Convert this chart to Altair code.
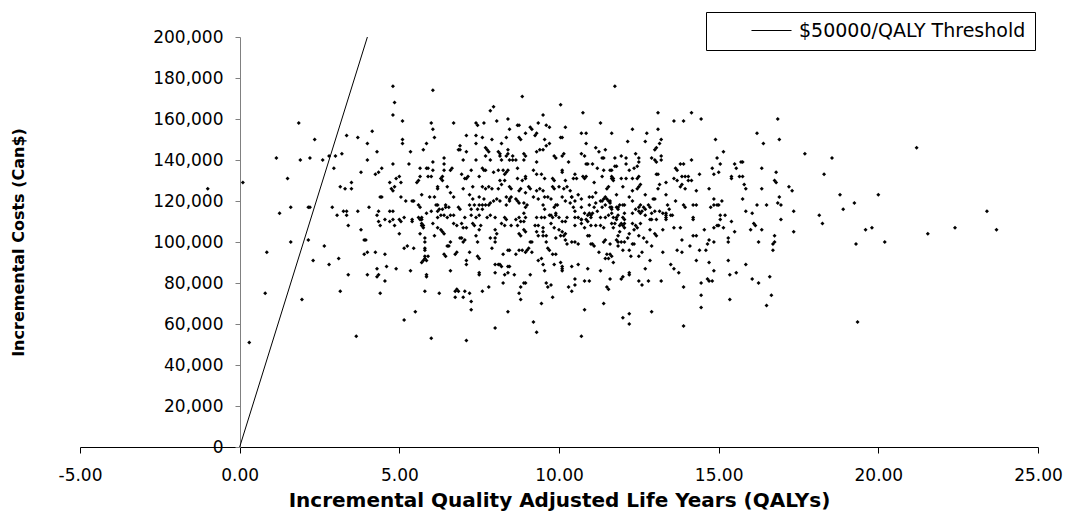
import altair as alt
import pandas as pd

# Simulated ICER cloud: (incremental QALYs, incremental cost in thousand Can$)
pts_left = [
    (-1.0, 126), (0.1, 129), (0.3, 51), (0.85, 95), (0.8, 75), (1.25, 114), (1.6, 117), (1.6, 100),
    (1.15, 141), (1.5, 131), (1.85, 158), (1.9, 140), (1.95, 72), (2.15, 117), (2.2, 117), (2.15, 101),
    (2.2, 141), (2.3, 91), (2.35, 150), (2.6, 140), (2.65, 98), (2.8, 142), (2.8, 89), (2.9, 117),
    (2.95, 136), (3.0, 142), (3.05, 113), (3.1, 92), (3.15, 127), (3.15, 76), (3.2, 143), (3.25, 115),
    (3.3, 126), (3.35, 115), (3.35, 113), (3.35, 152), (3.4, 108), (3.4, 84), (3.5, 126), (3.5, 129),
    (3.65, 54), (3.7, 151), (3.7, 115), (3.8, 134), (3.8, 106), (3.9, 101), (3.95, 101), (3.9, 94),
    (4.0, 148), (4.0, 140), (4.0, 95), (4.0, 84), (4.05, 117), (4.15, 154), (4.25, 133), (4.25, 95),
    (4.3, 144), (4.3, 113), (4.3, 87), (4.3, 83), (4.35, 134), (4.35, 115), (4.35, 84), (4.35, 110),
    (4.4, 122), (4.4, 108), (4.4, 75), (4.45, 136), (4.45, 122), (4.55, 111), (4.55, 94), (4.55, 81),
    (4.6, 88), (4.7, 129), (4.7, 115), (4.7, 110), (4.75, 126), (4.8, 176), (4.8, 162), (4.8, 138),
    (4.8, 125), (4.8, 115), (4.8, 111), (4.85, 168), (4.85, 127), (4.85, 108), (4.9, 131), (4.9, 87),
    (5.0, 132), (5.0, 111), (5.0, 104), (5.05, 129), (5.05, 122), (5.05, 110), (5.1, 159), (5.1, 150),
    (5.1, 148), (5.15, 112), (5.15, 97), (5.15, 62), (5.2, 120), (5.25, 98), (5.3, 138), (5.35, 144),
    (5.35, 86), (5.4, 120), (5.4, 111), (5.4, 110), (5.45, 120), (5.45, 97), (5.5, 66), (5.55, 129),
    (5.6, 130), (5.6, 118), (5.6, 112), (5.65, 136), (5.65, 132), (5.65, 117), (5.65, 111), (5.65, 104),
    (5.7, 123), (5.7, 112), (5.7, 111), (5.7, 108), (5.75, 145), (5.75, 108), (5.75, 91), (5.8, 100),
    (5.8, 96), (5.8, 92), (5.8, 76), (5.85, 148), (5.85, 114), (5.85, 83), (5.9, 136), (5.9, 132),
    (5.9, 93),
]

pts_mid_upper = [
    (6.05, 174), (11.75, 176), (8.85, 171), (7.85, 164), (7.95, 166), (10.05, 167), (10.75, 163),
    (9.5, 162), (6.0, 158), (6.05, 155), (6.1, 151), (6.7, 158), (7.4, 158), (7.45, 157), (7.65, 158),
    (8.05, 159), (8.4, 160), (8.7, 157), (8.75, 157), (8.45, 155), (9.1, 156), (9.15, 155), (9.35, 158),
    (9.6, 157), (9.7, 156), (10.2, 156), (11.3, 158), (11.65, 153), (7.1, 152), (7.4, 152), (7.6, 151),
    (7.9, 150), (7.4, 148), (7.7, 146), (7.75, 145), (7.8, 144), (6.9, 147), (6.9, 145), (7.1, 144),
    (6.85, 145), (8.2, 148), (8.35, 151), (8.75, 151), (8.8, 150), (8.95, 153), (9.3, 153), (9.25, 152),
    (9.55, 150), (9.6, 147), (9.7, 148), (9.4, 145), (9.5, 145), (9.3, 144), (10.05, 151), (10.1, 151),
    (10.7, 153), (10.85, 153), (10.85, 148), (11.15, 146), (11.45, 145), (11.25, 144), (10.7, 143),
    (10.8, 142), (10.15, 143), (10.1, 142), (9.85, 142), (9.9, 141), (8.1, 144), (8.15, 143), (8.4, 145),
    (8.4, 143), (8.35, 142), (8.55, 142), (8.55, 140), (8.65, 140), (8.45, 140), (8.2, 140), (8.15, 142),
    (8.9, 143), (8.95, 142), (8.9, 140), (7.7, 142), (7.85, 140), (7.0, 140), (7.4, 140), (6.4, 141),
    (6.05, 139), (9.3, 139), (10.3, 139), (10.85, 138), (10.9, 138), (11.05, 138), (11.35, 141),
    (11.4, 141), (11.2, 136), (11.4, 135), (11.65, 135), (11.75, 137), (11.8, 137), (5.85, 136),
    (6.05, 135), (6.0, 132), (6.4, 138), (6.4, 135), (6.35, 132), (6.6, 135), (6.65, 136), (6.95, 133),
    (7.05, 131), (7.1, 131), (7.15, 132), (7.25, 135), (7.6, 136), (7.65, 135), (7.7, 135), (7.5, 132),
    (7.95, 134), (8.1, 135), (8.25, 135), (8.3, 133), (8.35, 134), (8.4, 135), (8.7, 136), (8.15, 130),
    (8.3, 130), (8.7, 131), (8.85, 130), (8.95, 131), (8.95, 132), (9.2, 135), (9.3, 133), (9.45, 133),
    (9.55, 131), (9.8, 131), (9.85, 130), (10.1, 134), (10.1, 135), (10.2, 130), (10.5, 133), (10.55, 131),
    (10.45, 131), (10.75, 132), (10.8, 131), (10.85, 132), (11.1, 129), (11.35, 132), (11.5, 126),
    (11.55, 127), (11.65, 131), (11.7, 130), (6.2, 126), (6.2, 127), (6.3, 131), (6.35, 130), (6.5, 127),
    (6.6, 124), (7.0, 126), (7.3, 127), (7.6, 127), (7.7, 126), (7.8, 127), (7.9, 126), (7.5, 122),
    (8.1, 126), (8.2, 128), (8.45, 127), (8.5, 126), (8.35, 122), (8.45, 121), (8.75, 125), (8.8, 126),
    (8.95, 124), (9.05, 127), (9.1, 126), (9.3, 125), (9.4, 126), (9.5, 125), (9.75, 121), (9.8, 127),
    (9.85, 126), (10.0, 127), (10.15, 126), (10.25, 127), (10.35, 125), (10.4, 122), (10.6, 123),
    (10.7, 121), (10.95, 122), (11.05, 122), (11.15, 124), (11.3, 120), (11.35, 120), (11.4, 121),
    (11.45, 122), (11.5, 121), (11.55, 120), (11.6, 119), (5.95, 122), (6.1, 122), (6.15, 118),
    (6.2, 118), (6.45, 118), (6.55, 117), (6.25, 116), (6.35, 116), (6.7, 122), (6.85, 117), (6.9, 116),
    (7.2, 123), (7.3, 121), (7.2, 118), (7.35, 118), (7.5, 118), (7.25, 116), (7.45, 116), (7.65, 121),
    (7.7, 118), (7.8, 118), (7.85, 119), (7.6, 118), (7.6, 116), (7.95, 120), (8.05, 121), (8.15, 120),
    (8.35, 118), (8.45, 120), (8.5, 122), (8.65, 121), (8.7, 120), (8.75, 119), (8.9, 119), (8.95, 117),
    (9.0, 118), (9.2, 122), (9.35, 121), (9.55, 122), (9.65, 122), (9.5, 118), (9.55, 116), (9.85, 117),
    (9.9, 118), (9.95, 118), (10.1, 122), (10.2, 120), (10.4, 122), (10.5, 120), (10.35, 119),
    (10.45, 117), (10.7, 117), (10.95, 118), (11.1, 117), (11.15, 119), (11.35, 117), (11.45, 118),
    (11.6, 117), (11.65, 116), (11.85, 117), (11.9, 118), (6.0, 115), (6.2, 112), (6.3, 113), (6.45, 117),
    (6.4, 113), (6.5, 112), (6.6, 113), (7.05, 112), (7.25, 113), (7.4, 112), (7.5, 113), (7.75, 112),
    (7.85, 113), (8.0, 112), (8.3, 112), (8.35, 111), (8.75, 112), (8.9, 114), (8.95, 112), (9.3, 112),
    (9.45, 112), (9.7, 113), (9.8, 112), (9.9, 114), (10.0, 112), (10.25, 112), (10.5, 112), (10.7, 111),
    (11.0, 112), (11.05, 114), (11.2, 115), (11.3, 112), (11.7, 112), (11.85, 113),
]

pts_mid_lower = [
    (6.2, 115), (6.7, 113), (5.7, 109), (5.75, 107), (6.05, 109), (6.2, 107), (6.3, 106), (6.35, 105),
    (6.4, 104), (6.1, 103), (5.8, 102), (5.8, 97), (5.8, 93), (5.85, 91), (5.7, 90), (5.85, 84),
    (6.25, 75), (6.0, 53), (6.4, 94), (6.45, 93), (6.5, 98), (6.55, 98), (6.7, 109), (6.8, 108),
    (6.95, 109), (7.0, 107), (6.9, 102), (6.95, 102), (7.0, 100), (7.05, 101), (7.1, 107), (7.3, 109),
    (7.35, 108), (6.6, 100), (6.8, 95), (6.75, 94), (7.2, 95), (7.1, 91), (7.1, 89), (7.45, 93),
    (7.5, 92), (7.4, 103), (7.45, 100), (7.5, 106), (7.55, 108), (7.85, 102), (7.9, 97), (8.0, 106),
    (8.05, 104), (8.0, 102), (8.0, 100), (8.2, 109), (8.3, 108), (8.4, 96), (8.45, 96), (8.25, 94),
    (8.5, 108), (8.65, 111), (8.7, 108), (8.75, 104), (8.8, 103), (8.8, 110), (8.9, 110), (8.9, 106),
    (8.95, 105), (8.75, 96), (8.85, 96), (8.95, 95), (9.0, 96), (9.05, 97), (9.15, 95), (8.65, 94),
    (9.1, 100), (9.15, 100), (9.3, 105), (9.35, 103), (9.5, 105), (9.5, 103), (9.25, 108), (9.35, 108),
    (9.5, 107), (9.6, 103), (9.6, 100), (9.55, 112), (9.75, 113), (9.9, 113), (9.75, 109), (9.85, 107),
    (10.0, 106), (10.1, 105), (10.1, 110), (10.2, 110), (9.9, 102), (10.05, 103), (10.15, 103),
    (10.2, 104), (9.65, 97), (9.7, 96), (9.45, 92), (9.35, 91), (9.5, 89), (9.55, 86), (9.8, 94),
    (9.9, 94), (10.1, 88), (10.1, 86), (10.4, 88), (9.85, 89), (10.2, 101), (10.25, 99), (10.4, 100),
    (10.5, 100), (10.6, 99), (10.5, 115), (10.6, 112), (10.7, 111), (10.8, 114), (10.9, 113),
    (10.95, 114), (11.0, 113), (10.85, 111), (10.9, 110), (10.5, 108), (10.7, 109), (10.8, 107),
    (11.0, 108), (11.15, 108), (11.3, 108), (11.4, 107), (11.45, 112), (11.55, 113), (11.65, 114),
    (11.65, 109), (11.75, 109), (10.9, 103), (10.95, 103), (11.0, 99), (11.05, 99), (11.1, 98),
    (11.4, 100), (11.45, 101), (11.6, 99), (11.25, 95), (11.5, 94), (11.6, 94), (11.65, 93), (11.45, 92),
    (11.55, 92), (11.7, 90), (11.3, 86), (10.6, 89), (10.9, 87), (10.5, 82), (10.5, 79), (10.4, 76),
    (10.3, 78), (10.8, 81), (10.95, 81), (11.6, 82), (11.5, 78), (11.55, 77), (11.4, 70), (10.8, 67),
    (10.7, 54), (10.05, 90), (10.1, 87), (8.0, 89), (8.1, 89), (8.15, 89), (8.2, 88), (8.4, 88),
    (8.45, 88), (8.3, 84), (8.4, 85), (8.25, 80), (8.6, 84), (8.9, 80), (8.95, 80), (8.8, 78), (8.75, 75),
    (8.8, 72), (9.1, 84), (9.6, 80), (9.65, 78), (9.75, 79), (9.8, 73), (9.45, 70), (9.2, 61), (9.3, 56),
    (8.0, 58), (8.4, 66), (7.5, 85), (7.5, 84), (7.8, 78), (7.6, 76), (6.75, 76), (6.8, 77), (6.85, 76),
    (6.75, 73), (7.0, 73), (7.05, 76), (7.2, 75), (7.25, 71), (7.25, 67), (7.1, 52), (6.6, 86), (8.0, 85),
]

pts_right_upper = [
    (13.1, 163), (14.15, 163), (13.6, 159), (13.9, 159), (14.45, 160), (12.3, 155), (12.75, 153),
    (13.1, 155), (12.15, 149), (12.7, 149), (13.2, 150), (13.15, 148), (13.05, 146), (13.0, 145),
    (14.9, 150), (16.2, 153), (16.85, 160), (16.4, 148), (16.9, 150), (17.7, 143), (15.15, 144),
    (14.95, 141), (11.75, 141), (11.95, 142), (12.1, 141), (12.4, 143), (12.5, 141), (12.5, 139),
    (12.45, 137), (12.35, 136), (12.9, 141), (13.0, 140), (13.05, 139), (13.2, 142), (13.2, 140),
    (12.1, 138), (12.2, 135), (11.6, 135), (11.65, 132), (11.7, 131), (11.95, 131), (12.1, 131),
    (12.3, 131), (12.5, 132), (12.45, 131), (12.0, 127), (11.8, 123), (12.3, 125), (12.45, 126),
    (12.5, 127), (12.55, 128), (13.1, 133), (13.05, 133), (13.15, 128), (13.1, 126), (13.35, 129),
    (13.65, 136), (13.7, 135), (13.8, 138), (13.9, 138), (14.15, 140), (13.6, 131), (13.7, 130),
    (13.85, 132), (13.95, 132), (14.05, 132), (14.05, 130), (14.15, 130), (13.85, 128), (13.8, 127),
    (14.4, 133), (13.95, 126), (14.3, 125), (14.7, 126), (14.8, 136), (14.85, 133), (15.0, 134),
    (15.05, 138), (15.5, 138), (15.55, 136), (15.7, 139), (15.75, 139), (15.4, 132), (15.4, 131),
    (15.65, 132), (15.75, 132), (15.8, 128), (15.85, 126), (16.35, 136), (16.35, 126), (16.8, 134),
    (16.75, 130), (16.8, 129), (17.2, 127), (17.3, 125), (16.9, 122), (16.85, 119), (16.95, 118),
    (15.75, 121), (16.2, 118), (16.5, 118), (15.85, 115), (16.05, 114), (17.35, 115), (16.95, 111),
    (14.85, 121), (14.95, 118), (14.85, 118), (15.0, 118), (14.75, 117), (15.1, 120), (15.05, 113),
    (15.2, 113), (14.2, 111), (14.2, 118), (14.3, 118), (13.9, 118), (13.95, 117), (13.65, 120),
    (13.35, 123), (13.4, 118), (13.45, 116), (13.25, 114), (13.35, 114), (13.55, 113), (13.05, 111),
    (13.35, 112), (12.95, 121), (13.0, 121), (12.7, 123), (12.8, 118), (12.85, 117), (12.55, 118),
    (12.65, 117), (12.7, 116), (12.4, 116), (12.5, 117), (12.55, 114), (12.2, 122), (12.3, 120),
    (12.0, 118), (12.05, 118), (11.8, 117), (11.85, 116), (11.6, 120), (11.65, 117), (11.8, 111),
    (11.8, 112), (12.0, 112), (12.05, 111), (12.3, 114), (12.7, 113), (12.9, 114), (13.0, 115),
]

pts_right_lower = [
    (11.9, 108), (11.7, 107), (11.95, 109), (12.0, 108), (12.05, 107), (12.05, 109), (12.05, 114),
    (11.9, 105), (11.85, 103), (11.8, 101), (11.85, 100), (11.95, 100), (12.05, 100), (11.85, 98),
    (12.0, 96), (12.15, 102), (12.2, 104), (12.3, 109), (12.4, 108), (12.45, 107), (12.35, 106),
    (12.3, 99), (12.35, 99), (12.2, 96), (12.5, 115), (12.6, 115), (12.85, 111), (12.9, 111),
    (12.55, 109), (12.5, 103), (12.65, 102), (12.75, 100), (12.85, 106), (13.0, 104), (13.05, 103),
    (12.9, 98), (12.6, 95), (12.5, 93), (12.25, 93), (12.85, 91), (12.7, 87), (12.2, 85), (12.2, 84),
    (12.0, 83), (11.95, 82), (12.5, 81), (12.6, 79), (12.8, 81), (13.2, 81), (13.25, 106), (13.25, 95),
    (13.35, 113), (13.35, 111), (13.5, 113), (13.15, 115), (13.6, 107), (13.8, 107), (13.5, 89),
    (13.6, 87), (13.75, 85), (13.7, 96), (13.85, 95), (13.85, 101), (14.1, 98), (14.2, 112), (14.2, 103),
    (14.3, 103), (14.4, 96), (14.3, 91), (13.9, 78), (14.45, 80), (14.45, 74), (14.45, 68), (13.9, 59),
    (12.9, 66), (12.0, 63), (12.2, 65), (12.2, 60), (14.55, 106), (14.6, 96), (14.65, 99), (14.7, 101),
    (14.7, 90), (14.65, 82), (14.7, 81), (14.8, 81), (14.85, 86), (14.85, 100), (14.85, 107),
    (14.95, 108), (15.0, 108), (15.05, 111), (15.15, 107), (15.4, 110), (15.5, 105), (15.3, 102),
    (15.3, 100), (15.3, 91), (15.35, 84), (15.55, 85), (15.35, 72), (15.85, 89), (16.0, 106),
    (16.1, 109), (16.15, 108), (16.35, 106), (16.25, 100), (16.05, 82), (16.25, 80), (16.6, 83),
    (16.65, 74), (16.5, 69), (16.75, 103), (16.75, 100), (16.7, 99), (16.7, 96), (17.35, 105),
]

pts_far_right = [
    (18.55, 141), (18.3, 133), (18.8, 123), (18.9, 116), (19.25, 119), (20.0, 123), (18.15, 113),
    (21.2, 146), (23.4, 115), (18.25, 109), (19.6, 106), (19.8, 107), (19.3, 99), (20.2, 100),
    (21.55, 104), (22.4, 107), (23.7, 106), (19.35, 61),
]

# $50,000 per QALY threshold line
thr_label = "$50000/QALY Threshold"
thr_qaly = [0, 4]
thr_cost = [0, 200000]

# axis ticks
x_ticks = [-5, 0, 5, 10, 15, 20, 25]
y_ticks = [0, 20000, 40000, 60000, 80000, 100000, 120000, 140000, 160000, 180000, 200000]

all_pts = pts_left + pts_mid_upper + pts_mid_lower + pts_right_upper + pts_right_lower + pts_far_right
df = pd.DataFrame(all_pts, columns=["qaly", "cost_k"])
df["cost"] = df["cost_k"] * 1000
thr_df = pd.DataFrame({"qaly": thr_qaly, "cost": thr_cost, "series": [thr_label] * len(thr_qaly)})

FONT = "DejaVu Sans"
W, H = 958, 410

x_enc = alt.X(
    "qaly:Q",
    scale=alt.Scale(domain=[-5, 25], nice=False, zero=False),
    axis=alt.Axis(
        values=x_ticks,
        labelExpr="replace(format(datum.value, '.2f'), '\u2212', '-')",
        title="Incremental Quality Adjusted Life Years (QALYs)",
        titleFont=FONT, titleFontSize=20, titleFontWeight="bold", titleColor="black",
        titlePadding=7,
        labelFont=FONT, labelFontSize=17, labelColor="black", labelPadding=14,
        domainColor="black", tickColor="black", tickSize=6, grid=False,
        labelFlush=False, labelOverlap=False,
    ),
)
y_enc = alt.Y(
    "cost:Q",
    scale=alt.Scale(domain=[0, 200000], nice=False),
    axis=alt.Axis(
        values=y_ticks, format=",d", offset=-160,
        title="Incremental Costs (Can$)",
        titleFont=FONT, titleFontSize=16, titleFontWeight="bold", titleColor="black",
        titleX=-222, titleY=205, titleAngle=270, titleAlign="center", titleBaseline="middle",
        labelFont=FONT, labelFontSize=17, labelColor="black", labelPadding=12,
        domainColor="#808080", tickColor="#808080", tickSize=5, grid=False,
        labelOverlap=False,
    ),
)

points = alt.Chart(df).mark_point(
    shape="diamond", filled=True, size=16, color="black", opacity=1
).encode(x=x_enc, y=y_enc)

line = alt.Chart(thr_df).mark_line(strokeWidth=1).encode(
    x=x_enc,
    y=y_enc,
    color=alt.Color(
        "series:N",
        scale=alt.Scale(domain=[thr_label], range=["black"]),
        legend=alt.Legend(
            title=None, orient="none", legendX=626, legendY=-25,
            symbolType="M-2.86,0L2.86,0", symbolSize=196, symbolStrokeWidth=1,
            labelFont=FONT, labelFontSize=19, labelColor="black", labelOffset=18,
            labelLimit=500, symbolOffset=47, padding=9,
            strokeColor="black", fillColor="white",
        ),
    ),
)

chart = (
    alt.layer(line, points)
    .properties(
        width=W, height=H,
        padding={"left": 72, "top": 29, "right": 26, "bottom": 64},
        autosize=alt.AutoSizeParams(type="none"),
        background="white",
    )
    .configure(font=FONT)
    .configure_view(stroke=None, strokeWidth=0)
)

chart.save("out.html", embed_options={"renderer": "svg", "actions": False})
